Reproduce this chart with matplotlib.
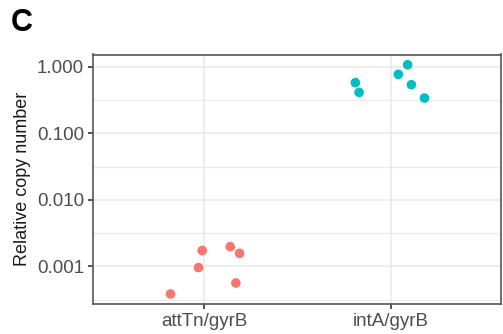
import numpy as np
import matplotlib
matplotlib.use('Agg')
import matplotlib.pyplot as plt
from matplotlib.ticker import FixedLocator, NullFormatter

# ── Data ─────────────────────────────────────────────────────────────────
categories = ['attTn/gyrB', 'intA/gyrB']
att_x = [0.82, 0.97, 0.99, 1.14, 1.19, 1.17]
att_y = [0.000385, 0.00096, 0.00173, 0.00198, 0.00157, 0.000563]
int_x = [1.81, 1.83, 2.04, 2.09, 2.11, 2.18]
int_y = [0.575, 0.411, 0.766, 1.07, 0.537, 0.338]
y_ticks = [0.001, 0.01, 0.1, 1.0]
y_tick_labels = ['0.001', '0.010', '0.100', '1.000']

plt.rcParams['font.family'] = ['Liberation Sans', 'DejaVu Sans']

fig = plt.figure(figsize=(5.03, 3.34), dpi=100)
ax = fig.add_axes([93 / 503, 1 - 304 / 334, (501 - 93) / 503, (304 - 54.5) / 334])

ax.scatter(att_x, att_y, s=48, color='#F8766D', edgecolors='none', zorder=3)
ax.scatter(int_x, int_y, s=48, color='#00BFC4', edgecolors='none', zorder=3)

ax.set_yscale('log')
ax.set_xlim(0.405, 2.59)
ax.set_ylim(10 ** -3.565, 10 ** 0.183)

ax.yaxis.set_major_locator(FixedLocator(y_ticks))
ax.set_yticklabels(y_tick_labels)
ax.yaxis.set_minor_locator(FixedLocator([10 ** -3.5, 10 ** -2.5, 10 ** -1.5, 10 ** -0.5]))
ax.yaxis.set_minor_formatter(NullFormatter())
ax.set_xticks([1, 2])
ax.set_xticklabels(categories)

ax.grid(True, which='major', color='#EBEBEB', linewidth=1.2, zorder=0)
ax.grid(True, which='minor', axis='y', color='#EBEBEB', linewidth=0.9, zorder=0)
ax.set_axisbelow(True)

for sp in ax.spines.values():
    sp.set_color('#555555')
    sp.set_linewidth(1.2)

ax.tick_params(axis='both', which='major', length=3.5, width=1.2, color='#333333',
               labelsize=13.5, labelcolor='#4D4D4D', pad=3)
ax.tick_params(axis='y', which='minor', length=0)

ax.set_ylabel('Relative copy number', fontsize=13, color='#1A1A1A', labelpad=4)

fig.text(11 / 503, 1 - 23 / 334, 'C', fontsize=22, fontweight='bold', va='center', ha='left')

fig.savefig('out.png', dpi=100)
